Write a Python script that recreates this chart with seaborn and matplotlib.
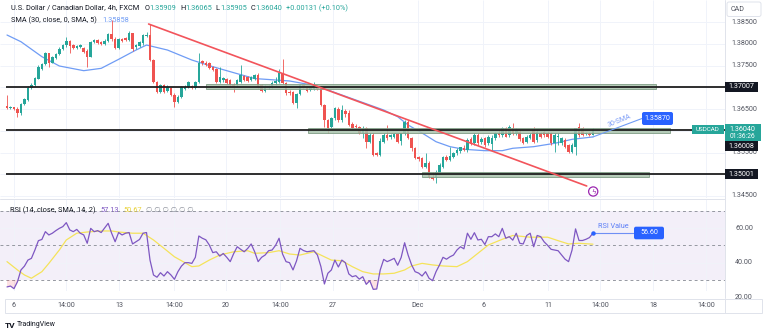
import matplotlib
matplotlib.use("Agg")
import matplotlib.pyplot as plt
from matplotlib.patches import Rectangle, FancyBboxPatch, Circle
import numpy as np
import pandas as pd
import seaborn as sns

# ---------------- data ----------------
opens = [
    1.36570, 1.36531, 1.36539, 1.36508, 1.36401, 1.36616, 1.36708, 1.36976, 1.37052, 1.37198,
    1.37412, 1.37535, 1.37780, 1.37566, 1.37673, 1.37765, 1.37872, 1.37964, 1.38071, 1.37964,
    1.37903, 1.37933, 1.37903, 1.37841, 1.37703, 1.38040, 1.38086, 1.38040, 1.37994, 1.38071,
    1.38224, 1.38117, 1.37903, 1.38102, 1.38125, 1.38086, 1.38240, 1.37918, 1.37949, 1.38010,
    1.38178, 1.38201, 1.37627, 1.37129, 1.36899, 1.37045, 1.36922, 1.36983, 1.36830, 1.36669,
    1.36784, 1.36968, 1.36999, 1.37029, 1.36976, 1.37121, 1.37596, 1.37566, 1.37550, 1.37458,
    1.37428, 1.37121, 1.37167, 1.37183, 1.37167, 1.37060, 1.37045, 1.37121, 1.37259, 1.37228,
    1.37167, 1.37198, 1.37282, 1.37045, 1.36922, 1.36976, 1.37014, 1.37091, 1.37129, 1.37320,
    1.37091, 1.36899, 1.36899, 1.36646, 1.36845, 1.37045, 1.36999, 1.36937, 1.36968, 1.37029,
    1.36976, 1.36593, 1.36248, 1.36095, 1.36286, 1.36493, 1.36248, 1.36462, 1.36401, 1.36156,
    1.36110, 1.36079, 1.35942, 1.36056, 1.35750, 1.35903, 1.35482, 1.35444, 1.35750, 1.35903,
    1.35850, 1.35865, 1.35926, 1.35773, 1.35942, 1.36210, 1.35827, 1.35597, 1.35390, 1.35367,
    1.35176, 1.35268, 1.34946, 1.34946, 1.35038, 1.35176, 1.35390, 1.35329, 1.35405, 1.35482,
    1.35543, 1.35597, 1.35559, 1.35804, 1.35712, 1.35903, 1.35750, 1.35827, 1.35712, 1.35696,
    1.35827, 1.35942, 1.35903, 1.36056, 1.35903, 1.36056, 1.35942, 1.35980, 1.35827, 1.35750,
    1.35827, 1.36018, 1.35788, 1.35942, 1.35980, 1.35942, 1.35942, 1.35712, 1.35850, 1.35712,
    1.35788, 1.35673, 1.35520, 1.35635, 1.36079, 1.36056, 1.35926, 1.35926, 1.35909,
]
highs = [
    1.36822, 1.36570, 1.36554, 1.36539, 1.36631, 1.36754, 1.37029, 1.37091, 1.37228, 1.37512,
    1.37566, 1.37818, 1.37795, 1.37719, 1.37795, 1.37918, 1.37994, 1.38148, 1.38086, 1.37994,
    1.37979, 1.37994, 1.37933, 1.37872, 1.38071, 1.38117, 1.38117, 1.38071, 1.38102, 1.38255,
    1.38546, 1.38148, 1.38125, 1.38132, 1.38163, 1.38301, 1.38255, 1.37994, 1.38071, 1.38224,
    1.38278, 1.38454, 1.37642, 1.37152, 1.37075, 1.37075, 1.37045, 1.37014, 1.36861, 1.36815,
    1.37029, 1.37045, 1.37152, 1.37052, 1.37152, 1.37780, 1.37627, 1.37596, 1.37581, 1.37489,
    1.37443, 1.37474, 1.37244, 1.37205, 1.37198, 1.37091, 1.37198, 1.37512, 1.37290, 1.37259,
    1.37259, 1.37305, 1.37320, 1.37075, 1.37045, 1.37052, 1.37152, 1.37244, 1.37412, 1.37642,
    1.37121, 1.36937, 1.36922, 1.36876, 1.37075, 1.37060, 1.37029, 1.36999, 1.37121, 1.37052,
    1.37014, 1.36616, 1.36279, 1.36325, 1.36539, 1.36539, 1.36593, 1.36493, 1.36478, 1.36210,
    1.36156, 1.36110, 1.36110, 1.36095, 1.35942, 1.35942, 1.35520, 1.35827, 1.35942, 1.36133,
    1.35926, 1.35957, 1.35957, 1.35957, 1.36248, 1.36248, 1.35865, 1.35635, 1.35421, 1.35405,
    1.35497, 1.35298, 1.35061, 1.35099, 1.35252, 1.35421, 1.35444, 1.35635, 1.35520, 1.35597,
    1.35635, 1.35673, 1.35827, 1.35850, 1.35942, 1.35942, 1.35865, 1.35865, 1.35903, 1.35903,
    1.35980, 1.36018, 1.36079, 1.36095, 1.36133, 1.36187, 1.36056, 1.36018, 1.35850, 1.35903,
    1.35942, 1.36095, 1.36018, 1.35980, 1.36018, 1.36003, 1.35980, 1.35942, 1.35942, 1.35865,
    1.35827, 1.35696, 1.35712, 1.36070, 1.36187, 1.36095, 1.35980, 1.35980, 1.36065,
]
lows = [
    1.36508, 1.36508, 1.36478, 1.36309, 1.36371, 1.36593, 1.36692, 1.36953, 1.37029, 1.37183,
    1.37397, 1.37512, 1.37474, 1.37550, 1.37642, 1.37742, 1.37857, 1.37933, 1.37780, 1.37872,
    1.37872, 1.37903, 1.37780, 1.37474, 1.37688, 1.38010, 1.37994, 1.37964, 1.37964, 1.38048,
    1.38071, 1.37872, 1.37872, 1.38040, 1.38056, 1.38056, 1.37841, 1.37887, 1.37933, 1.37979,
    1.38148, 1.37611, 1.37106, 1.36876, 1.36876, 1.36876, 1.36891, 1.36800, 1.36554, 1.36646,
    1.36754, 1.36937, 1.36976, 1.36953, 1.36953, 1.37106, 1.37520, 1.37489, 1.37412, 1.37366,
    1.37106, 1.37091, 1.37121, 1.37075, 1.37014, 1.36899, 1.37014, 1.37091, 1.37137, 1.37121,
    1.37137, 1.37167, 1.36983, 1.36899, 1.36899, 1.36953, 1.36976, 1.37052, 1.37091, 1.37075,
    1.36830, 1.36830, 1.36616, 1.36516, 1.36815, 1.36976, 1.36899, 1.36922, 1.36937, 1.36937,
    1.36570, 1.36095, 1.35942, 1.36056, 1.36248, 1.36210, 1.36210, 1.36325, 1.36110, 1.36018,
    1.36049, 1.35926, 1.35827, 1.35597, 1.35727, 1.35421, 1.35421, 1.35421, 1.35712, 1.35788,
    1.35804, 1.35827, 1.35712, 1.35673, 1.35903, 1.35804, 1.35543, 1.35344, 1.35298, 1.35137,
    1.35137, 1.34907, 1.34869, 1.34793, 1.35007, 1.35137, 1.35298, 1.35298, 1.35367, 1.35444,
    1.35497, 1.35543, 1.35520, 1.35673, 1.35673, 1.35673, 1.35696, 1.35635, 1.35673, 1.35559,
    1.35788, 1.35865, 1.35865, 1.35850, 1.35865, 1.35903, 1.35903, 1.35773, 1.35696, 1.35712,
    1.35804, 1.35727, 1.35750, 1.35827, 1.35865, 1.35827, 1.35673, 1.35520, 1.35673, 1.35673,
    1.35597, 1.35497, 1.35482, 1.35444, 1.35865, 1.35880, 1.35896, 1.35880, 1.35905,
]
closes = [
    1.36524, 1.36547, 1.36493, 1.36401, 1.36616, 1.36723, 1.36976, 1.37052, 1.37205, 1.37474,
    1.37535, 1.37780, 1.37566, 1.37688, 1.37765, 1.37887, 1.37964, 1.38071, 1.37949, 1.37903,
    1.37949, 1.37964, 1.37811, 1.37703, 1.38040, 1.38086, 1.38025, 1.37994, 1.38071, 1.38224,
    1.38102, 1.37903, 1.38102, 1.38071, 1.38086, 1.38240, 1.37887, 1.37964, 1.38040, 1.38194,
    1.38209, 1.37627, 1.37129, 1.36899, 1.37045, 1.36899, 1.37014, 1.36830, 1.36669, 1.36784,
    1.36999, 1.37014, 1.37121, 1.36976, 1.37121, 1.37550, 1.37550, 1.37520, 1.37435, 1.37397,
    1.37129, 1.37228, 1.37213, 1.37106, 1.37052, 1.36976, 1.37167, 1.37282, 1.37167, 1.37152,
    1.37228, 1.37282, 1.37014, 1.36922, 1.37014, 1.37029, 1.37106, 1.37152, 1.37320, 1.37091,
    1.36861, 1.36861, 1.36646, 1.36845, 1.37045, 1.36999, 1.36922, 1.36976, 1.37052, 1.36953,
    1.36593, 1.36248, 1.36056, 1.36286, 1.36516, 1.36248, 1.36478, 1.36386, 1.36133, 1.36056,
    1.36079, 1.35957, 1.36049, 1.35750, 1.35903, 1.35444, 1.35444, 1.35773, 1.35903, 1.35827,
    1.35896, 1.35926, 1.35750, 1.35942, 1.36210, 1.35827, 1.35597, 1.35367, 1.35344, 1.35176,
    1.35268, 1.34946, 1.34885, 1.35061, 1.35214, 1.35390, 1.35329, 1.35421, 1.35482, 1.35559,
    1.35620, 1.35559, 1.35788, 1.35696, 1.35903, 1.35712, 1.35804, 1.35673, 1.35850, 1.35827,
    1.35942, 1.35903, 1.36056, 1.35865, 1.36095, 1.35942, 1.36018, 1.35804, 1.35727, 1.35865,
    1.35903, 1.35750, 1.35980, 1.35865, 1.35903, 1.35865, 1.35712, 1.35903, 1.35880, 1.35827,
    1.35635, 1.35520, 1.35673, 1.36056, 1.35903, 1.35903, 1.35957, 1.35909, 1.36040,
]

sma_idx = [0, 4, 10, 15, 22, 27, 32, 37, 40, 46, 53, 59, 65, 71, 77, 81, 89, 92, 96, 100,
           104, 108, 112, 115, 119, 123, 127, 131, 137, 142, 145, 151, 157, 162, 168]
sma_val = [1.38201, 1.38047, 1.37703, 1.37489, 1.37381, 1.37435, 1.37642, 1.37856, 1.37971,
           1.37856, 1.37626, 1.37473, 1.37335, 1.37200, 1.37167, 1.37144, 1.37029, 1.36937,
           1.36822, 1.36707, 1.36592, 1.36477, 1.36323, 1.36132, 1.35948, 1.35748, 1.35634,
           1.35574, 1.35542, 1.35542, 1.35597, 1.35634, 1.35711, 1.35803, 1.35858]

rsi = [
    26.0, 26.5, 25.0, 29.0, 35.8, 38.0, 41.5, 42.5, 47.3, 52.7,
    53.4, 57.9, 56.0, 57.0, 58.5, 59.8, 60.8, 63.1, 58.9, 57.9,
    59.2, 57.0, 56.0, 51.2, 59.8, 57.9, 58.5, 57.4, 60.0, 62.7,
    57.0, 52.1, 57.4, 56.0, 57.0, 57.4, 50.8, 52.1, 53.4, 57.0,
    57.4, 41.5, 32.9, 31.6, 34.2, 32.3, 34.8, 32.9, 30.4, 34.8,
    38.0, 40.0, 40.0, 39.6, 43.1, 55.4, 54.1, 53.2, 50.2, 45.8,
    46.3, 43.8, 45.3, 43.1, 40.6, 45.3, 49.2, 47.7, 46.3, 48.2,
    50.8, 46.3, 40.6, 43.1, 44.4, 46.9, 47.3, 50.0, 54.1, 45.0,
    40.6, 40.0, 35.8, 41.0, 48.3, 47.0, 46.3, 46.6, 46.9, 44.4,
    37.7, 27.7, 33.9, 35.8, 41.5, 37.5, 41.5, 40.0, 33.5, 31.9,
    32.5, 30.5, 31.9, 27.5, 29.6, 24.6, 24.8, 35.8, 41.9, 40.6,
    41.5, 42.5, 38.5, 43.0, 51.5, 44.4, 38.7, 34.8, 34.0, 32.3,
    34.8, 31.0, 29.6, 34.8, 38.7, 43.1, 42.0, 43.4, 44.4, 47.3,
    49.2, 48.0, 57.0, 53.5, 57.3, 53.1, 53.5, 50.5, 55.0, 55.0,
    56.6, 55.0, 59.8, 54.1, 55.0, 53.0, 57.0, 51.2, 50.8, 55.7,
    57.0, 49.2, 55.7, 55.0, 52.0, 50.0, 47.7, 47.3, 46.9, 44.4,
    42.0, 40.6, 47.3, 59.5, 52.8, 52.8, 53.5, 54.5, 57.13,
]
rsi_ma_idx = [0, 3, 5, 7, 8, 10, 12, 15, 17, 20, 23, 27, 30, 32, 36, 39, 42, 45, 48, 51,
              53, 55, 58, 61, 65, 69, 71, 75, 78, 81, 84, 88, 91, 93, 96, 99, 102, 105, 108, 111,
              114, 116, 119, 122, 125, 129, 132, 135, 138, 142, 145, 150, 155, 158, 161, 164, 168]
rsi_ma = [40.6, 35.8, 32.9, 31.0, 32.3, 34.8, 39.6, 47.3, 53.1, 57.0,
          57.7, 58.3, 58.3, 57.7, 57.0, 57.0, 53.1, 48.3, 43.4, 40.0,
          37.7, 38.1, 41.5, 44.4, 46.3, 46.9, 45.4, 45.8, 46.9, 45.0,
          44.4, 46.3, 43.4, 41.5, 41.1, 37.7, 34.8, 33.5, 33.5, 33.9,
          35.8, 38.1, 39.6, 38.7, 38.1, 37.7, 40.6, 45.4, 50.2, 53.5,
          55.7, 54.7, 54.7, 52.7, 50.8, 51.2, 50.67]

levels = [1.37007, 1.36008, 1.35001]
zone_lo = [1.36953, 1.35941, 1.34944]
zone_hi = [1.37068, 1.36063, 1.35059]
zone_start = [57.1, 86.3, 119.0]
zone_end = [186.1, 190.1, 184.1]
trend_idx = [40.6, 166.2]
trend_price = [1.38454, 1.34730]

price_ticks = [1.385, 1.380, 1.375, 1.365, 1.355, 1.345]
grid_prices = [1.345, 1.350, 1.355, 1.360, 1.365, 1.370, 1.375, 1.380, 1.385]
rsi_ticks = [60, 40, 20]
time_pos = [2.0, 16.9, 32.1, 47.9, 62.8, 78.3, 93.5, 117.8, 136.5, 155.1, 170.0, 185.2, 200.4]
time_labels = ["6", "14:00", "13", "14:00", "20", "14:00", "27", "Dec", "6", "11", "14:00", "18", "14:00"]

title = "U.S. Dollar / Canadian Dollar, 4h, FXCM"
sma_title = "SMA (30, close, 0, SMA, 5)"
rsi_title = "RSI (14, close, SMA, 14, 2)"
countdown = "01:36:26"
sma_note_value = "1.35870"
rsi_note_value = "56.60"

# ---------------- style ----------------
UP = "#26a69a"
DOWN = "#ef5350"
DARK = "#131722"
AXT = "#50535e"
GRID = "#f0f3fa"
BORDER = "#e0e3eb"
SMA_C = "#6f9cf5"
RSI_C = "#7e57c2"
RSIMA_C = "#f5e35a"
BLUE = "#2962ff"
HDR = 5.3
AXF = 5.1

sns.set_theme(style="white")
plt.rcParams["font.family"] = ["Roboto", "DejaVu Sans"]

W, H = 768, 336
fig = plt.figure(figsize=(W / 100, H / 100), dpi=100)
fig.patch.set_facecolor("white")

X0_PX, STEP_PX = 7.0, 3.488


def xl(a, b):
    return ((a - X0_PX) / STEP_PX, (b - X0_PX) / STEP_PX)


# ---------------- price pane ----------------
ax = fig.add_axes([0, 1 - 198 / H, 725 / W, 198 / H])
ax.set_xlim(*xl(0, 725))
ax.set_ylim(1.34454, 1.39006)
xmin, xmax = ax.get_xlim()

ax.hlines(grid_prices, xmin, xmax, color=GRID, lw=0.7, zorder=0)
ax.vlines(time_pos, 1.34454, 1.39006, color=GRID, lw=0.7, zorder=0)

o = np.array(opens); h = np.array(highs); l = np.array(lows); c = np.array(closes)
idx = np.arange(len(c))
cols = np.where(c >= o, UP, DOWN)
ax.vlines(idx, l, h, colors=cols, lw=0.6, zorder=3)
ax.bar(idx, np.maximum(np.abs(c - o), 0.00005), bottom=np.minimum(o, c), width=0.72,
       color=cols, linewidth=0, zorder=4)

sns.lineplot(x=sma_idx, y=sma_val, ax=ax, color=SMA_C, lw=0.9, zorder=2, legend=False)

for x0, x1, lo, hi in zip(zone_start, zone_end, zone_lo, zone_hi):
    ax.add_patch(Rectangle((x0, lo), x1 - x0, hi - lo, facecolor="#a9c3ad", edgecolor="#7f9c84",
                           lw=0.7, alpha=0.85, zorder=5))
ax.hlines(levels, -0.3, xmax, color="#1f1f1f", lw=1.3, zorder=6)
ax.plot(trend_idx, trend_price, color="#f2545b", lw=1.2, zorder=7)
ax.set_axis_off()

# ---------------- RSI pane ----------------
axr = fig.add_axes([0, 1 - 291 / H, 725 / W, 92 / H])
axr.set_xlim(*xl(0, 725))
axr.set_ylim(23.65, 76.75)
axr.axhspan(30, 70, color=RSI_C, alpha=0.09, lw=0, zorder=0)
axr.hlines([40, 60], xmin, xmax, color=GRID, lw=0.7, zorder=0)
axr.vlines(time_pos, 23.65, 76.75, color=GRID, lw=0.7, zorder=0)
axr.hlines([70, 50, 30], xmin, xmax, color="#9598a1", lw=0.7, linestyles=(0, (3, 3)), zorder=1)
r = np.array(rsi)
axr.fill_between(idx, r, 30, where=r < 30, interpolate=True, color="#f23645", alpha=0.15, lw=0)
sns.lineplot(x=rsi_ma_idx, y=rsi_ma, ax=axr, color=RSIMA_C, lw=0.9, zorder=2, legend=False)
sns.lineplot(x=idx, y=rsi, ax=axr, color=RSI_C, lw=0.9, zorder=3, legend=False)
axr.set_axis_off()

# ---------------- overlay (pixel space) ----------------
ov = fig.add_axes([0, 0, 1, 1], zorder=10)
ov.set_xlim(0, W)
ov.set_ylim(H, 0)
ov.set_axis_off()
renderer = fig.canvas.get_renderer()


def px(axis, x, y):
    X, Y = axis.transData.transform((x, y))
    return X, H - Y


def chain(x, y, parts, size):
    for s, col, gap in parts:
        t = ov.text(x, y, s, color=col, fontsize=size, ha="left", va="center", zorder=5)
        x += t.get_window_extent(renderer).width + gap
    return x


# borders
ov.plot([725, 725], [0, 298], color=BORDER, lw=0.7)
ov.plot([0, 725], [198.5, 198.5], color=BORDER, lw=0.7)
ov.add_patch(Rectangle((5, 298.5), 757, 14.5, facecolor="white", edgecolor=BORDER, lw=0.7, zorder=3))
ov.plot([725, 725], [298.5, 313], color=BORDER, lw=0.7, zorder=4)

# header
f5 = lambda v: f"{v:.5f}"
chg = closes[-1] - closes[-2]
chain(11, 8, [(title, DARK, 5), ("O", DARK, 0.4), (f5(opens[-1]), UP, 3.5),
              ("H", DARK, 0.4), (f5(highs[-1]), UP, 3.5),
              ("L", DARK, 0.4), (f5(lows[-1]), UP, 3.5),
              ("C", DARK, 0.4), (f5(closes[-1]), UP, 3.5),
              (f"{chg:+.5f} ({chg / closes[-2] * 100:+.2f}%)", UP, 0)], HDR)
chain(11, 20, [(sma_title, DARK, 5), (f5(sma_val[-1]), SMA_C, 0)], HDR)
chain(10, 210, [(rsi_title, DARK, 5), (f"{rsi[-1]:.2f}", RSI_C, 4),
                (f"{rsi_ma[-1]:.2f}", "#e8d23a", 4), ("∅ ∅ ∅ ∅ ∅ ∅", "#8a8e99", 0)], HDR)

# right price axis
ov.add_patch(FancyBboxPatch((727, 2), 34, 14.5, boxstyle="round,pad=0,rounding_size=2",
                            facecolor="white", edgecolor=BORDER, lw=0.7))
ov.text(731, 9.5, "CAD", color=AXT, fontsize=AXF, va="center", ha="left")
for p in price_ticks:
    _, y = px(ax, 0, p)
    ov.text(744, y, f"{p:.5f}", color=AXT, fontsize=AXF, ha="center", va="center", zorder=1)

for p in [levels[0], levels[2]]:
    _, y = px(ax, 0, p)
    ov.add_patch(Rectangle((725, y - 4.8), 33, 9.6, facecolor=DARK, lw=0, zorder=3))
    ov.text(741.5, y, f5(p), color="white", fontsize=AXF, ha="center", va="center", zorder=4)

_, yc = px(ax, 0, closes[-1])
ov.add_patch(Rectangle((725, yc - 4.6), 36, 17.0, facecolor=UP, lw=0, zorder=3))
ov.text(742.5, yc, f5(closes[-1]), color="white", fontsize=AXF, ha="center", va="center", zorder=4)
ov.text(742.5, yc + 7.8, countdown, color="white", fontsize=4.8, ha="center", va="center", zorder=4)
ov.add_patch(Rectangle((725, yc + 12.4), 33, 9.8, facecolor=DARK, lw=0, zorder=3))
ov.text(741.5, yc + 17.3, f5(levels[1]), color="white", fontsize=AXF, ha="center", va="center", zorder=4)
ov.add_patch(Rectangle((692, yc - 4.3), 31.5, 8.8, facecolor=UP, lw=0, zorder=3))
ov.text(707.7, yc, "USDCAD", color="white", fontsize=4.5, ha="center", va="center", zorder=4)

# RSI axis labels
for v in rsi_ticks:
    _, y = px(axr, 0, v)
    ov.text(744, y, f"{v:.2f}", color=AXT, fontsize=AXF, ha="center", va="center", zorder=1)

# time axis labels
for pos, lab in zip(time_pos, time_labels):
    x, _ = px(axr, pos, 50)
    ov.text(x, 305.8, lab, color=AXT, fontsize=AXF, ha="center", va="center", zorder=5)

# SMA note
sx, sy = px(ax, sma_idx[-1], sma_val[-1])
ov.plot([sx, 642], [sy, 118.5], color=SMA_C, lw=0.8)
ov.text(619, 120.5, "30-SMA", color="#7b9cf7", fontsize=5.0, rotation=22, ha="center", va="center")
ov.add_patch(FancyBboxPatch((642, 112), 31, 13, boxstyle="round,pad=0,rounding_size=2",
                            facecolor=BLUE, lw=0, zorder=3))
ov.text(657.5, 118.5, sma_note_value, color="white", fontsize=AXF, ha="center", va="center", zorder=4)

# RSI note
rx, ry = px(axr, idx[-1], rsi[-1])
ov.plot([rx, 634], [ry, ry], color="#6f8ff5", lw=0.8)
ov.plot([rx], [ry], marker="o", ms=2.2, color=BLUE)
ov.text(598, ry - 6.5, "RSI Value", color="#5b7ef7", fontsize=5.2, ha="left", va="center")
ov.add_patch(FancyBboxPatch((634, ry - 6.3), 30, 12.6, boxstyle="round,pad=0,rounding_size=2",
                            facecolor=BLUE, lw=0, zorder=3))
ov.text(649, ry, rsi_note_value, color="white", fontsize=AXF, ha="center", va="center", zorder=4)

# alert icon at the end of the trend line
ex, ey = px(ax, trend_idx[-1], trend_price[-1])
ov.add_patch(Circle((ex + 6.5, ey + 5.5), 4.6, facecolor="white", edgecolor="#9c27b0", lw=0.9, zorder=3))
ov.text(ex + 6.5, ey + 5.7, "ϟ", color="#9c27b0", fontsize=5.2, ha="center", va="center", zorder=4,
        family="DejaVu Sans")

# logo
ov.text(5, 325, "TV", color=DARK, fontsize=6, fontweight="bold", ha="left", va="center")
ov.text(16.5, 325, "TradingView", color=DARK, fontsize=5.0, ha="left", va="center")

fig.savefig("out.png", dpi=100, facecolor="white")
